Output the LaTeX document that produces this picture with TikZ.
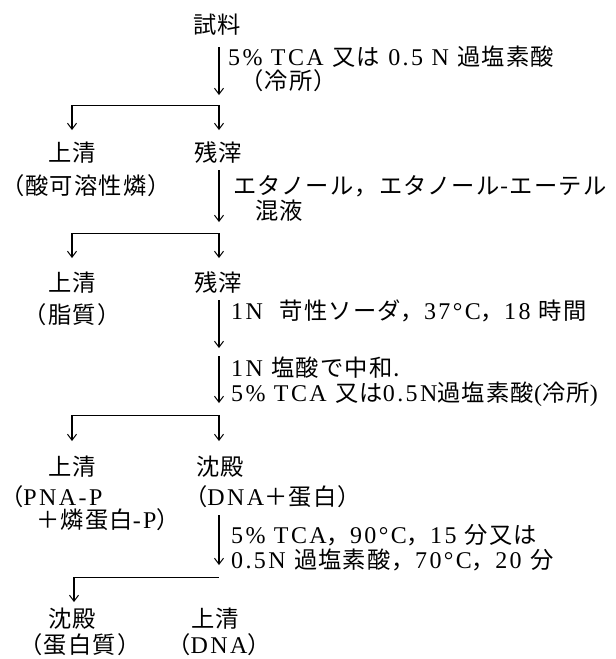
\documentclass[tikz,border=0pt]{standalone}
\usepackage{fontspec}
\setmainfont{Liberation Serif}[LetterSpace=10]
\newfontfamily\jp{Noto Sans CJK JP}[Scale=0.97,LetterSpace=5]
\newcommand{\J}[1]{{\jp #1}}
\usetikzlibrary{arrows.meta}
\begin{document}
\begin{tikzpicture}[x=1pt,y=-1pt,
  every node/.style={inner sep=0pt, font=\fontsize{24}{24}\selectfont, text height=17pt, text depth=0pt},
  item/.style={anchor=center},
  lbl/.style={anchor=west},
  arr/.style={-{Straight Barb[length=6pt,width=9pt,line width=1pt]}, line width=1.1pt},
  branch/.style={line width=0.8pt}]
\useasboundingbox (0,0) rectangle (616,659);

% --- start
\node[item] (sample) at (217,25) {\J{試料}};
\coordinate (a1s) at (219,47);
\coordinate (a1e) at (219,95);
\draw[arr] (a1s) -- (a1e);
\node[lbl] (c1a) at (228,57) {5\% TCA\ \J{又は}\ 0.5 N\ \J{過塩素酸}};
\node[lbl] (c1b) at (240,81) {\J{（冷所）}};

% --- split 1
\coordinate (s1l) at (72,105);
\coordinate (s1r) at (219,105);
\coordinate (t1l) at (72,130);
\coordinate (t1r) at (219,130);
\draw[branch] (s1l) -- (s1r);
\draw[arr] (s1l) -- (t1l);
\draw[arr] (s1r) -- (t1r);
\node[item] (sup1) at (72,153) {\J{上清}};
\node[item] (res1) at (218,153) {\J{残滓}};
\node[item] (sup1b) at (86,186) {\J{（酸可溶性燐）}};

% --- step 2
\coordinate (a2s) at (219,170);
\coordinate (a2e) at (219,222);
\draw[arr] (a2s) -- (a2e);
\node[lbl] (c2a) at (233,186) {\J{エタノール，エタノール-エーテル}};
\node[lbl] (c2b) at (255,211) {\J{混液}};

% --- split 2
\coordinate (s2l) at (72,233);
\coordinate (s2r) at (219,233);
\coordinate (t2l) at (72,258);
\coordinate (t2r) at (219,258);
\draw[branch] (s2l) -- (s2r);
\draw[arr] (s2l) -- (t2l);
\draw[arr] (s2r) -- (t2r);
\node[item] (sup2) at (72,283) {\J{上清}};
\node[item] (res2) at (218,283) {\J{残滓}};
\node[item] (sup2b) at (72,315) {\J{（脂質）}};

% --- step 3
\coordinate (a3s) at (219,300);
\coordinate (a3e) at (219,348);
\draw[arr] (a3s) -- (a3e);
\node[lbl] (c3a) at (231,311) {1N\ \ \J{苛性ソーダ，}37°C\J{，}18\ \J{時間}};

% --- step 4
\coordinate (a4s) at (219,356);
\coordinate (a4e) at (219,403);
\draw[arr] (a4s) -- (a4e);
\node[lbl] (c4a) at (231,368) {1N\ \J{塩酸で中和.}};
\node[lbl] (c4b) at (231,393) {5\% TCA \J{又は}0.5N\J{過塩素酸}(\J{冷所})};

% --- split 3
\coordinate (s3l) at (72,415);
\coordinate (s3r) at (219,415);
\coordinate (t3l) at (72,441);
\coordinate (t3r) at (219,441);
\draw[branch] (s3l) -- (s3r);
\draw[arr] (s3l) -- (t3l);
\draw[arr] (s3r) -- (t3r);
\node[item] (sup3) at (72,467) {\J{上清}};
\node[item] (ppt3) at (220,467) {\J{沈殿}};
\node[lbl] (sup3b) at (0,497) {\J{（}PNA-P};
\node[lbl] (sup3c) at (36,520) {\J{＋燐蛋白}-P\J{）}};
\node[lbl] (ppt3b) at (184,497) {\J{（}DNA\J{＋蛋白）}};

% --- step 5
\coordinate (a5s) at (219,515);
\coordinate (a5e) at (219,565);
\draw[arr] (a5s) -- (a5e);
\node[lbl] (c5a) at (231,535) {5\% TCA\J{，}90°C\J{，}15\ \J{分又は}};
\node[lbl] (c5b) at (231,560) {0.5N\ \J{過塩素酸，}70°C\J{，}20\ \J{分}};

% --- split 4
\coordinate (s4l) at (74,577);
\coordinate (s4r) at (219,577);
\coordinate (t4l) at (74,602);
\draw[branch] (s4l) -- (s4r);
\draw[arr] (s4l) -- (t4l);
\node[item] (ppt4) at (72,619) {\J{沈殿}};
\node[item] (sup4) at (215,619) {\J{上清}};
\node[item] (ppt4b) at (80,645) {\J{（蛋白質）}};
\node[item] (sup4b) at (219,645) {\J{（}DNA\J{）}};
\end{tikzpicture}
\end{document}
